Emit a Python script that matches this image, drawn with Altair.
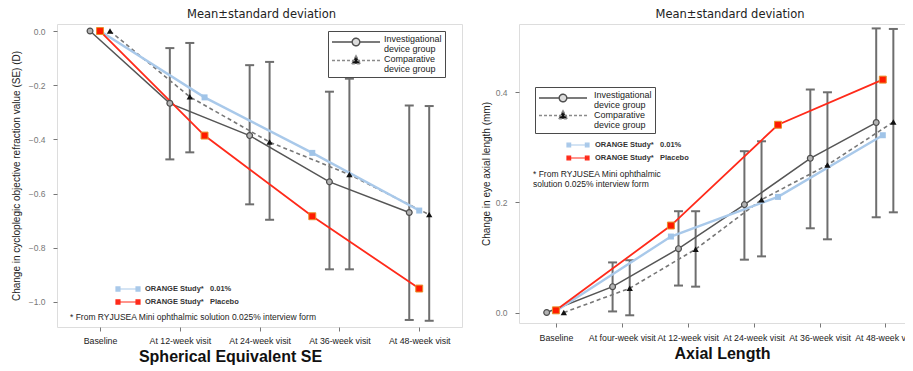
import json
import altair as alt
import pandas as pd

# ---------------- data ----------------
TITLE_TOP = "Mean\u00b1standard deviation"
CAPTIONS = ["Spherical Equivalent SE", "Axial Length"]
Y_TITLES = ["Change in cycloplegic objective refraction value (SE) (D)",
            "Change in eye axial length (mm)"]
DEV_GROUPS = ["Investigational device group", "Comparative device group"]
OR_GROUPS = ["ORANGE Study*\u00a0\u00a0 0.01%", "ORANGE Study*\u00a0\u00a0 Placebo"]
FOOT_SE = "* From RYJUSEA Mini ophthalmic solution 0.025% interview form"
FOOT_AL = ["* From RYJUSEA Mini ophthalmic", "\u00a0\u00a0solution 0.025% interview form"]

# Spherical equivalent
SE_LABELS = ["Baseline", "At 12-week visit", "At 24-week visit",
             "At 36-week visit", "At 48-week visit"]
SE_INV_MEAN = [0.0, -0.267, -0.386, -0.557, -0.670]
SE_INV_HI = [None, -0.063, -0.126, -0.224, -0.275]
SE_INV_LO = [None, -0.474, -0.640, -0.880, -1.067]
SE_CMP_MEAN = [0.0, -0.243, -0.410, -0.530, -0.678]
SE_CMP_HI = [None, -0.044, -0.114, -0.176, -0.277]
SE_CMP_LO = [None, -0.448, -0.697, -0.880, -1.070]
SE_OR_POS = [0.0, 1.31, 2.66, 4.0]
SE_OR_LOW = [0.0, -0.245, -0.450, -0.663]
SE_OR_PLC = [0.0, -0.386, -0.684, -0.951]
SE_YTICKS = [0.0, -0.2, -0.4, -0.6, -0.8, -1.0]

# Axial length
AL_LABELS = ["Baseline", "At four-week visit", "At 12-week visit",
             "At 24-week visit", "At 36-week visit", "At 48-week visit"]
AL_INV_MEAN = [0.0, 0.047, 0.116, 0.196, 0.280, 0.345]
AL_INV_HI = [None, 0.091, 0.184, 0.293, 0.405, 0.516]
AL_INV_LO = [None, 0.002, 0.049, 0.096, 0.153, 0.173]
AL_CMP_MEAN = [0.0, 0.044, 0.115, 0.205, 0.268, 0.346]
AL_CMP_HI = [None, 0.095, 0.184, 0.311, 0.400, 0.515]
AL_CMP_LO = [None, -0.005, 0.047, 0.102, 0.133, 0.182]
AL_OR_POS = [0.0, 1.745, 3.37, 4.96]
AL_OR_LOW = [0.003, 0.138, 0.210, 0.322]
AL_OR_PLC = [0.004, 0.158, 0.341, 0.423]
AL_YTICKS = [0.0, 0.2, 0.4]

# ---------------- styling ----------------
FONT = "Liberation Sans"
# legend symbol paths (units of 4 px)
LAB_BOX = "M-6.2,-0.9M6.2,0.9"
P_INV = "M-6,0L-0.95,0M0.95,0L6,0M0.95,0A0.95,0.95,0,1,1,-0.95,0A0.95,0.95,0,1,1,0.95,0Z"
P_CMP = "M-6,0L6,0M0,-1.2L1.15,0.8L-1.15,0.8Z"
P_OR = "M-1,0L1,0M-1,-0.17L-0.67,-0.17L-0.67,0.17L-1,0.17ZM0.67,-0.17L1,-0.17L1,0.17L0.67,0.17Z"
DEV_SYMBOLS = [  # path, fill, stroke, dash
    (P_INV, "#dcdcdc", "#505050", [1, 0]),
    (P_CMP, "#111111", "#8a8a8a", [3, 2]),
]

# legend text rows: each group label on two lines ("Investigational" / "device group")
DEV_LEG_DOMAIN = []
for _i, _g in enumerate(DEV_GROUPS):
    _head, _tail = _g.split(" ", 1)
    DEV_LEG_DOMAIN += [_head, _tail + "#" + str(_i)]


def panel(labels, inv, cmp_, or_pos, or_low, or_plc, foot, caption, ytitle, yticks, L):
    n = len(labels)
    dev_rows = []
    for g, off, (m, lo, hi) in zip(DEV_GROUPS, L["offsets"], (inv, cmp_)):
        for i in range(n):
            dev_rows.append(dict(group=g, pos=i + off, value=m[i], lo=lo[i], hi=hi[i]))
    dev = pd.DataFrame(dev_rows)
    or_rows = []
    for g, vals in zip(OR_GROUPS, (or_low, or_plc)):
        for p, v in zip(or_pos, vals):
            or_rows.append(dict(group=g, pos=p, value=v))
    orange = pd.DataFrame(or_rows)

    xaxis = alt.Axis(values=list(range(n)), labelExpr=json.dumps(labels) + "[datum.value]",
                     title=caption, titleFont=FONT, titleFontSize=16, titleFontWeight="bold",
                     titleColor="#111", titlePadding=L["tpad_x"], titleX=L["caption_x"],
                     grid=False, domain=False, tickSize=4, tickColor="#777",
                     labelFont=FONT, labelFontSize=8.8, labelColor="#222",
                     labelPadding=L["lpad_x"], labelOverlap=False, labelFlush=False)
    yaxis = alt.Axis(values=yticks, format=".1f", title=ytitle, titleFont=FONT,
                     titleFontSize=10, titleFontWeight="normal", titleColor="#222",
                     titlePadding=L["tpad_y"], grid=False, domain=False, tickSize=4,
                     tickColor="#777", labelFont=FONT, labelFontSize=8.5, labelColor="#777",
                     labelPadding=L["lpad_y"])

    def X():
        return alt.X("pos:Q", scale=alt.Scale(domain=L["xdom"], nice=False, zero=False), axis=xaxis)

    def Y(f):
        return alt.Y(f + ":Q", scale=alt.Scale(domain=L["ydom"], nice=False, zero=False), axis=yaxis)

    base_dev = alt.Chart(dev)
    bars = base_dev.transform_filter("isValid(datum.lo)")
    rules = bars.mark_rule(color="#6e6e6e", strokeWidth=2).encode(x=X(), y=Y("lo"), y2="hi:Q")
    cap_lo = bars.mark_tick(orient="horizontal", size=9, thickness=2, color="#6e6e6e",
                            opacity=1).encode(x=X(), y=Y("lo"))
    cap_hi = bars.mark_tick(orient="horizontal", size=9, thickness=2, color="#6e6e6e",
                            opacity=1).encode(x=X(), y=Y("hi"))

    inv_f = base_dev.transform_filter(alt.datum.group == DEV_GROUPS[0])
    cmp_f = base_dev.transform_filter(alt.datum.group == DEV_GROUPS[1])
    inv_line = inv_f.mark_line(color="#555", strokeWidth=1.5).encode(x=X(), y=Y("value"), order="pos:Q")
    cmp_line = cmp_f.mark_line(color="#777", strokeWidth=1.6, strokeDash=[4, 3]).encode(
        x=X(), y=Y("value"), order="pos:Q")
    inv_pts = inv_f.mark_point(shape="circle", filled=True, fill="#b3b3b3", stroke="#4d4d4d",
                               strokeWidth=1.2, size=34, opacity=1).encode(x=X(), y=Y("value"))
    cmp_pts = cmp_f.mark_point(shape="triangle-up", filled=True, color="#111", size=40,
                               opacity=1).encode(x=X(), y=Y("value"))

    base_or = alt.Chart(orange)
    low_f = base_or.transform_filter(alt.datum.group == OR_GROUPS[0])
    plc_f = base_or.transform_filter(alt.datum.group == OR_GROUPS[1])
    low_line = low_f.mark_line(color="#a9c9ea", strokeWidth=2.4).encode(x=X(), y=Y("value"), order="pos:Q")
    plc_line = plc_f.mark_line(color="#ff2a1a", strokeWidth=1.8).encode(x=X(), y=Y("value"), order="pos:Q")
    low_pts = low_f.mark_square(color="#a0c4e8", size=36, opacity=1).encode(x=X(), y=Y("value"))
    plc_pts = plc_f.mark_square(fill="#ff1a00", stroke="#e8902a", strokeWidth=1, size=48,
                                opacity=1).encode(x=X(), y=Y("value"))

    # device legend: one symbol legend per group + framed two-line labels
    sym_layers = []
    for g, (path, fill, stroke, dash), sy in zip(DEV_GROUPS, DEV_SYMBOLS, L["sym_y"]):
        leg = alt.Legend(title=None, orient="none", legendX=L["dev_leg"][0] + 3, legendY=sy,
                         symbolSize=64, symbolOffset=20, symbolStrokeWidth=1.4, symbolOpacity=1,
                         padding=0, labelExpr="''", zindex=2)
        s = lambda rng: alt.Scale(domain=[g], range=rng)
        sym_layers.append(
            alt.Chart(pd.DataFrame({"group": [g]})).transform_filter("false").mark_point(
                filled=True, opacity=1).encode(
                shape=alt.Shape("group:N", scale=s([path]), legend=leg),
                fill=alt.Fill("group:N", scale=s([fill]), legend=leg),
                stroke=alt.Stroke("group:N", scale=s([stroke]), legend=leg),
                strokeDash=alt.StrokeDash("group:N", scale=s([dash]), legend=leg),
            ))
    nb = "\u00a0" * 5
    leg_lab = alt.Legend(
        title=None, orient="none", legendX=L["dev_leg"][0], legendY=L["dev_leg"][1],
        symbolSize=64, symbolOffset=20, symbolStrokeWidth=0, symbolFillColor="transparent",
        symbolOpacity=1, rowPadding=0, padding=3, strokeColor="#4a4a4a", zindex=1,
        labelExpr="(indexof(datum.label, '#') > 0 ? slice(datum.label, 0, indexof(datum.label, '#')) : datum.label) + '" + nb + "'",
        labelFont=FONT, labelFontSize=9, labelColor="#222", labelOffset=L["dev_laboff"],
        labelLimit=300)
    dev_lab = alt.Chart(pd.DataFrame({"group": DEV_LEG_DOMAIN})).transform_filter("false").mark_point(
        filled=True, opacity=1).encode(
        shape=alt.Shape("group:N", scale=alt.Scale(domain=DEV_LEG_DOMAIN, range=[LAB_BOX] * 4),
                        legend=leg_lab),
    )

    leg_or = alt.Legend(
        title=foot, titleOrient="bottom", titleAnchor="start", titleAlign="left", titleFont=FONT,
        titleFontSize=8.5, titleFontWeight="normal", titleColor="#222", titlePadding=L["or_tpad"],
        titleLimit=400, orient="none", legendX=L["or_leg"][0], legendY=L["or_leg"][1],
        symbolSize=L["or_sym"] ** 2, symbolOffset=L["or_symoff"], symbolStrokeWidth=1.2,
        symbolOpacity=1, clipHeight=11, rowPadding=2, padding=0, labelFont=FONT,
        labelFontSize=7.5, labelFontWeight="bold", labelColor="#333",
        labelOffset=L["or_laboff"], labelLimit=300)
    or_leg = alt.Chart(pd.DataFrame({"group": OR_GROUPS})).transform_filter("false").mark_point(
        filled=True, opacity=1).encode(
        shape=alt.Shape("group:N", scale=alt.Scale(domain=OR_GROUPS, range=[P_OR, P_OR]), legend=leg_or),
        fill=alt.Fill("group:N", scale=alt.Scale(domain=OR_GROUPS, range=["#a9c9ea", "#ff2a1a"]), legend=leg_or),
        stroke=alt.Stroke("group:N", scale=alt.Scale(domain=OR_GROUPS, range=["#a9c9ea", "#ff2a1a"]), legend=leg_or),
    )

    title = alt.TitleParams(TITLE_TOP, font="DejaVu Sans", fontSize=11.5, fontWeight="normal",
                            color="#222", anchor="middle", frame="group", offset=4, dx=L["title_dx"])

    return alt.layer(
        rules, cap_lo, cap_hi, inv_line, cmp_line, low_line, plc_line,
        inv_pts, cmp_pts, low_pts, plc_pts, dev_lab, *sym_layers, or_leg
    ).resolve_scale(
        shape="independent", fill="independent", stroke="independent", strokeDash="independent"
    ).properties(width=L["width"], height=L["height"], title=title)


SE_LAYOUT = dict(width=405, height=303, xdom=[-0.539, 4.536], ydom=[-1.093, 0.026],
                 offsets=(-0.125, 0.125), tpad_x=4, caption_x=173, lpad_x=5, tpad_y=7, lpad_y=8,
                 dev_leg=(271, 7), dev_laboff=24, sym_y=(13, 31.5),
                 or_leg=(13, 259.5), or_sym=24, or_symoff=45,
                 or_laboff=4, or_tpad=5, title_dx=2)
AL_LAYOUT = dict(width=404, height=299, xdom=[-0.56, 5.57], ydom=[-0.019, 0.524],
                 offsets=(-0.14, 0.12), tpad_x=4, caption_x=203, lpad_x=6, tpad_y=4, lpad_y=8,
                 dev_leg=(16, 63), dev_laboff=27, sym_y=(69, 86.5),
                 or_leg=(14, 115.5), or_sym=22, or_symoff=33,
                 or_laboff=5, or_tpad=6, title_dx=9)

left = panel(SE_LABELS, (SE_INV_MEAN, SE_INV_LO, SE_INV_HI), (SE_CMP_MEAN, SE_CMP_LO, SE_CMP_HI),
             SE_OR_POS, SE_OR_LOW, SE_OR_PLC, FOOT_SE, CAPTIONS[0], Y_TITLES[0], SE_YTICKS, SE_LAYOUT)
right = panel(AL_LABELS, (AL_INV_MEAN, AL_INV_LO, AL_INV_HI), (AL_CMP_MEAN, AL_CMP_LO, AL_CMP_HI),
              AL_OR_POS, AL_OR_LOW, AL_OR_PLC, FOOT_AL, CAPTIONS[1], Y_TITLES[1], AL_YTICKS, AL_LAYOUT)

chart = alt.hconcat(left, right, spacing=57, bounds="flush").properties(
    autosize=alt.AutoSizeParams(type="none"),
    padding={"left": 49, "top": 16, "right": 848, "bottom": 347},
).configure_view(stroke="#555", strokeWidth=2).configure_legend(strokeWidth=2).configure(font=FONT)

chart.save("out.html", embed_options={"renderer": "svg", "actions": False})
